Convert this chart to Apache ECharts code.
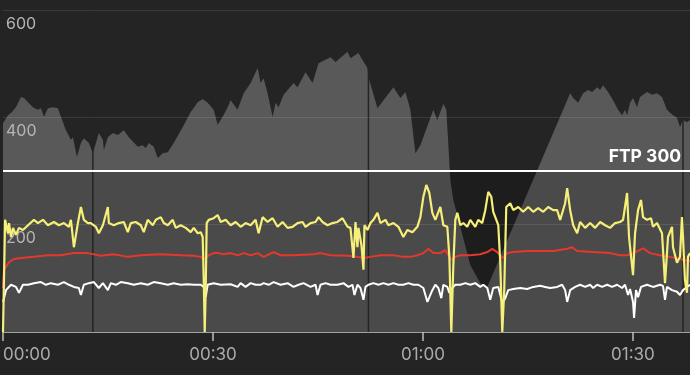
<!DOCTYPE html>
<html><head><meta charset="utf-8">
<script src="https://cdn.jsdelivr.net/npm/echarts@6/dist/echarts.min.js"></script>
<style>html,body{margin:0;padding:0;background:#242424;}#c{width:690px;height:375px;}</style>
</head><body><div id="c"></div>
<script>
// time in minutes, values on the shared 0-600 scale
const xTickLabels = ['00:00', '00:30', '01:00', '01:30'];
const xTicks = [0, 30, 60, 90];
const FTP = 300;
const xMax = 98.15;
const lapTimes = [12.84, 52.21, 97.15];

const elevation = [[0,389],[0.71,404],[1.14,408],[1.85,419],[2.57,438],[3.0,436],[3.57,428],[4.28,419],[4.99,414],[5.42,417],[5.85,401],[6.42,417],[7.13,419],[7.85,417],[8.27,401],[8.99,376],[9.70,358],[9.99,363],[10.56,326],[11.13,352],[11.55,361],[12.27,352],[12.84,333],[13.27,352],[13.69,371],[14.27,358],[14.41,339],[14.98,363],[15.69,371],[16.41,367],[17.26,376],[17.97,363],[19.26,345],[19.97,348],[20.40,343],[20.83,352],[21.54,345],[22.11,324],[22.82,333],[23.54,335],[24.39,352],[25.68,382],[26.82,410],[27.82,428],[28.53,434],[29.24,427],[30.10,414],[30.67,386],[31.38,401],[32.10,419],[32.52,432],[33.52,414],[34.38,445],[35.38,464],[36.38,492],[36.80,464],[37.23,473],[37.80,445],[38.52,401],[38.94,427],[39.37,419],[40.09,442],[41.51,464],[42.08,456],[43.22,484],[44.22,464],[45.08,501],[46.79,512],[47.50,503],[49.22,522],[49.64,510],[50.78,520],[51.36,507],[52.07,492],[52.21,475],[53.50,417],[55.78,456],[56.78,436],[57.49,447],[58.20,414],[58.92,333],[59.63,348],[61.48,414],[62.05,395],[62.91,425],[63.34,414],[63.91,283],[64.34,246],[65.34,196],[66.76,125],[68.19,91],[69.19,84],[81.03,445],[81.46,436],[82.17,427],[82.88,445],[83.59,451],[84.17,447],[84.88,456],[85.31,451],[85.73,460],[86.45,447],[87.16,432],[87.87,414],[88.45,404],[88.87,414],[89.16,404],[89.59,427],[90.01,436],[90.58,419],[91.01,438],[92.01,447],[92.72,442],[93.44,445],[94.15,438],[94.86,414],[95.72,404],[96.29,399],[96.72,382],[97.15,395],[97.72,391],[98.15,395]];

const power = [[0,0],[0.3,209],[0.71,184],[0.86,203],[1.14,177],[1.43,194],[1.85,181],[2.28,194],[2.85,190],[3.57,199],[4.42,209],[4.99,203],[5.71,209],[6.42,199],[7.28,205],[7.99,199],[8.70,203],[9.42,196],[9.70,209],[10.13,158],[10.70,203],[11.13,233],[11.41,233],[11.55,209],[12.13,203],[12.55,203],[13.27,196],[13.69,184],[14.27,199],[14.98,233],[15.12,203],[15.83,199],[16.55,203],[17.26,205],[17.83,186],[18.26,203],[18.97,205],[19.69,199],[20.11,186],[20.68,209],[21.40,199],[21.83,209],[22.54,214],[22.97,203],[23.54,199],[24.25,209],[24.68,194],[25.39,199],[26.11,194],[26.82,186],[27.25,194],[27.82,184],[28.25,186],[28.53,177],[28.67,102],[28.82,0],[28.96,78],[29.10,203],[29.39,209],[30.10,212],[30.67,218],[31.10,205],[31.81,209],[32.52,199],[33.24,205],[33.95,196],[34.66,203],[35.38,199],[36.09,209],[36.52,184],[37.09,214],[37.80,205],[38.52,212],[39.23,196],[39.94,205],[40.66,194],[41.37,196],[42.08,203],[42.80,205],[43.22,196],[43.94,203],[44.65,205],[45.08,214],[45.65,205],[46.36,199],[47.08,203],[47.79,205],[48.50,212],[49.22,196],[49.64,194],[50.07,138],[50.36,205],[50.64,158],[50.78,194],[51.21,162],[51.50,116],[51.64,199],[52.07,190],[52.50,203],[52.92,209],[53.50,222],[53.92,203],[54.64,209],[55.06,199],[55.78,203],[56.49,196],[57.20,177],[57.77,190],[58.49,186],[59.20,196],[59.63,214],[60.06,252],[60.48,274],[60.91,259],[61.34,222],[61.77,209],[62.48,233],[62.91,199],[63.48,196],[63.77,140],[64.05,0],[64.34,125],[64.62,209],[64.91,222],[65.34,199],[65.76,203],[66.33,196],[66.76,209],[67.47,196],[67.90,209],[68.47,203],[68.90,227],[69.33,261],[69.76,252],[70.04,224],[70.33,214],[70.76,199],[71.04,130],[71.33,0],[71.61,78],[71.90,233],[72.47,240],[72.90,227],[73.61,233],[74.32,224],[75.04,233],[75.75,224],[76.46,231],[77.18,224],[77.89,233],[78.60,227],[79.17,227],[79.60,209],[80.31,240],[80.60,268],[81.03,227],[81.46,199],[82.03,184],[82.45,205],[83.17,194],[83.88,203],[84.59,194],[85.31,205],[86.02,199],[86.73,194],[87.45,203],[88.16,205],[88.59,209],[89.16,259],[89.44,177],[90.01,106],[90.30,184],[90.73,227],[91.15,246],[91.44,214],[92.01,209],[92.58,212],[92.87,196],[93.44,203],[94.15,184],[94.58,91],[95.01,177],[95.58,196],[95.72,158],[96.29,129],[96.72,140],[97.00,214],[97.15,177],[97.43,97],[97.72,73],[97.86,140],[98.15,147]];

const cadence = [[0,56],[0.43,78],[1.14,88],[1.85,84],[2.28,73],[2.85,88],[3.57,88],[4.42,91],[5.42,93],[6.13,88],[6.85,91],[7.85,88],[8.70,93],[9.42,88],[10.13,84],[10.84,82],[11.13,69],[11.55,88],[12.27,91],[12.98,93],[13.69,82],[14.27,91],[14.98,78],[15.41,91],[16.12,88],[16.83,93],[17.83,91],[18.69,88],[19.69,91],[20.68,88],[21.54,93],[22.54,91],[23.54,88],[24.39,91],[25.39,88],[26.39,89],[27.25,88],[28.25,88],[28.67,84],[28.96,65],[29.24,88],[30.10,91],[31.10,88],[32.52,89],[33.52,84],[33.95,91],[34.66,84],[35.38,91],[36.09,88],[36.80,88],[37.23,91],[37.95,88],[38.66,93],[39.66,88],[40.66,91],[41.51,84],[42.23,88],[42.94,91],[43.94,84],[44.65,88],[44.94,69],[45.36,88],[46.08,91],[46.79,88],[47.79,88],[48.64,91],[49.36,84],[49.93,88],[50.21,69],[50.64,88],[51.07,82],[51.50,60],[51.78,84],[52.21,88],[52.92,91],[53.64,88],[54.35,91],[55.06,88],[55.78,91],[56.49,88],[57.20,88],[57.92,91],[58.63,88],[59.34,88],[60.06,82],[60.63,56],[61.34,78],[61.77,88],[62.20,82],[62.62,63],[62.91,88],[63.48,84],[63.77,73],[64.19,82],[64.62,88],[65.34,88],[66.05,91],[66.76,88],[67.47,91],[68.19,84],[68.62,88],[69.19,82],[69.61,60],[70.04,82],[70.76,84],[71.33,54],[71.76,63],[72.18,78],[72.90,80],[73.90,82],[74.89,80],[75.75,84],[76.75,86],[77.46,84],[78.17,82],[79.17,84],[79.89,88],[80.31,78],[80.60,56],[81.03,78],[81.74,84],[82.45,88],[83.17,84],[83.88,88],[84.31,82],[84.88,88],[85.59,84],[86.31,88],[87.02,84],[87.73,88],[88.45,82],[88.87,88],[89.30,69],[89.59,80],[90.01,56],[90.16,26],[90.44,78],[90.73,65],[91.15,84],[92.01,88],[92.87,84],[93.87,88],[94.29,86],[94.58,60],[94.86,84],[95.58,78],[96.29,75],[96.72,69],[97.15,78],[97.72,84],[98.15,88]];

const heartRate = [[0,82],[0.14,116],[0.86,130],[1.57,136],[2.57,138],[4.42,140],[6.42,143],[8.27,143],[10.13,147],[12.13,147],[13.98,142],[15.83,145],[17.83,140],[19.69,143],[22.54,145],[25.39,143],[27.25,142],[28.25,140],[28.67,136],[28.96,138],[29.39,143],[30.10,147],[30.81,147],[31.53,145],[32.52,147],[33.52,143],[34.38,147],[35.38,143],[36.38,147],[37.23,140],[38.66,149],[39.66,143],[41.51,143],[44.36,145],[45.36,147],[46.79,143],[49.22,142],[50.64,140],[51.50,138],[52.50,140],[53.92,143],[55.78,143],[57.20,140],[58.20,140],[59.20,143],[60.06,147],[60.77,155],[61.48,147],[62.48,147],[63.19,153],[63.62,143],[64.05,134],[64.62,140],[65.34,143],[66.76,143],[68.19,145],[69.19,149],[69.90,155],[70.61,149],[71.33,138],[72.04,147],[72.90,149],[74.89,151],[76.75,151],[78.60,151],[80.60,155],[81.31,158],[82.03,151],[84.31,149],[86.73,147],[88.16,143],[89.16,143],[90.01,147],[90.73,151],[91.44,156],[92.44,147],[93.87,143],[95.30,140],[96.72,136],[98.15,132]];

const chart = echarts.init(document.getElementById('c'), null, {renderer: 'canvas'});
const FONT = 'Inter, "Noto Sans", sans-serif';

const series = [
  {type: 'line', data: elevation, symbol: 'none', z: 1, silent: true,
   lineStyle: {width: 0}, areaStyle: {color: '#595959', opacity: 1}},
  {type: 'line', data: [[0, FTP], [xMax, FTP]], symbol: 'none', z: 2, silent: true,
   lineStyle: {width: 0}, areaStyle: {color: 'rgba(0,0,0,0.17)', opacity: 1}}
];
lapTimes.forEach(t => series.push({
  type: 'line', data: [[t, 0], [t, 600]], symbol: 'none', z: 2, silent: true,
  lineStyle: {color: '#242424', width: 1.5}
}));
series.push({
  type: 'line', z: 4, silent: true, showSymbol: true, symbol: 'circle', symbolSize: 0.1,
  data: [[0, FTP], {value: [xMax, FTP], label: {
    show: true, position: 'top', align: 'right', offset: [-9, 0],
    formatter: 'FTP ' + FTP, color: '#ffffff', fontSize: 17.5, fontWeight: 'bold', fontFamily: FONT
  }}],
  lineStyle: {color: '#ffffff', width: 2}, itemStyle: {color: '#ffffff'}
});
series.push({type: 'line', data: cadence, symbol: 'none', z: 5, lineStyle: {color: '#ffffff', width: 2}});
series.push({type: 'line', data: heartRate, symbol: 'none', z: 5, lineStyle: {color: '#e5382c', width: 2}});
series.push({type: 'line', data: power, symbol: 'none', z: 5, lineStyle: {color: '#f6ef78', width: 2.2}});

chart.setOption({
  animation: false,
  backgroundColor: '#242424',
  grid: {left: 2, right: 0, top: 10, bottom: 43, containLabel: false},
  xAxis: {
    type: 'value', min: 0, max: xMax, interval: 30,
    axisLine: {show: true, lineStyle: {color: '#bdbdbd', width: 1.5}},
    axisTick: {show: true, length: 9, customValues: xTicks, lineStyle: {color: '#bdbdbd', width: 1.5}},
    axisLabel: {
      customValues: xTicks, color: '#ababab', fontSize: 17, fontFamily: FONT, margin: 14,
      alignMinLabel: 'left',
      formatter: v => xTickLabels[Math.round(v / 30)]
    },
    splitLine: {show: false}
  },
  yAxis: {
    type: 'value', min: 0, max: 600, interval: 200, z: 3,
    axisLine: {show: false}, axisTick: {show: false},
    splitLine: {show: true, lineStyle: {color: 'rgba(255,255,255,0.1)', width: 1}},
    axisLabel: {
      inside: true, margin: 3, verticalAlign: 'top', padding: [6, 0, 0, 0],
      color: '#b5b5b5', fontSize: 16, fontFamily: FONT,
      formatter: v => (v === 0 ? '' : String(v))
    }
  },
  series: series
});
</script>
</body></html>
